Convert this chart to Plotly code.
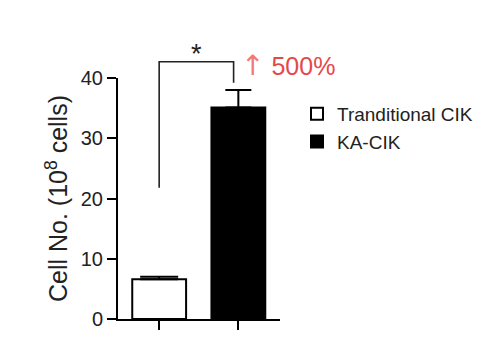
import plotly.graph_objects as go

# ---- data ----
groups = ["Tranditional CIK", "KA-CIK"]
cell_no = [6.6, 35.1]          # 10^8 cells
cell_err = [0.4, 2.9]
bar_colors = ["white", "black"]
err_widths = [19, 13]
y_ticks = [0, 10, 20, 30, 40]
YMAX = 40
# significance bracket (x in category units, y in data units)
bracket_x = [0, 0, 0.94, 0.94]
bracket_y = [21.8, 42.7, 42.7, 39.2]
sig_label = "*"
increase_label = ("<span style='font-family:DejaVu Sans;font-size:28px;color:#f07a7a'>↑</span>"
                  " 500%")

FONT = "Liberation Sans, Arial, sans-serif"
TXT = "#222222"

fig = go.Figure()
for i, name in enumerate(groups):
    fig.add_trace(go.Bar(
        x=[i], y=[cell_no[i]], name=name, width=0.68,
        marker=dict(color=bar_colors[i], line=dict(color="black", width=2)),
        error_y=dict(type="data", array=[cell_err[i]], arrayminus=[0],
                     color="black", thickness=2, width=err_widths[i]),
    ))

# bracket
path = "M {} {} L {} {} L {} {} L {} {}".format(
    bracket_x[0], bracket_y[0] / YMAX, bracket_x[1], bracket_y[1] / YMAX,
    bracket_x[2], bracket_y[2] / YMAX, bracket_x[3], bracket_y[3] / YMAX)
fig.add_shape(type="path", path=path, xref="x", yref="y domain",
              line=dict(color=TXT, width=1.6))

fig.add_annotation(text=sig_label, xref="paper", yref="paper", x=0.486, y=1.10,
                   showarrow=False, font=dict(size=27, color=TXT, family=FONT),
                   xanchor="center", yanchor="middle")
fig.add_annotation(text=increase_label, xref="paper", yref="paper", x=0.745, y=1.05,
                   showarrow=False, font=dict(size=25, color="#e5484b", family=FONT),
                   xanchor="left", yanchor="middle")

fig.update_layout(
    width=504, height=350,
    margin=dict(l=118, r=224, t=78, b=31),
    plot_bgcolor="white", paper_bgcolor="white",
    barmode="overlay",
    showlegend=True,
    legend=dict(x=1.105, y=0.93, xanchor="left", yanchor="top",
                font=dict(size=19, color=TXT, family=FONT),
                bgcolor="rgba(0,0,0,0)", tracegroupgap=4),
    font=dict(family=FONT, color=TXT),
)
fig.update_xaxes(range=[-0.52, 1.526], showline=True, linecolor="black", linewidth=2,
                 ticks="outside", ticklen=9, tickwidth=2, tickcolor="black",
                 tickvals=[0, 1], showticklabels=False, showgrid=False, zeroline=False)
fig.update_yaxes(range=[0, YMAX], showline=True, linecolor="black", linewidth=2,
                 ticks="outside", ticklen=9, tickwidth=2, tickcolor="black",
                 tickvals=y_ticks, tickfont=dict(size=20, color=TXT, family=FONT),
                 ticklabelstandoff=0,
                 showgrid=False, zeroline=False,
                 title=dict(text="Cell No. (10<sup>8</sup> cells)", standoff=6,
                            font=dict(size=25, color=TXT, family=FONT)))

fig.write_html("out.html")
